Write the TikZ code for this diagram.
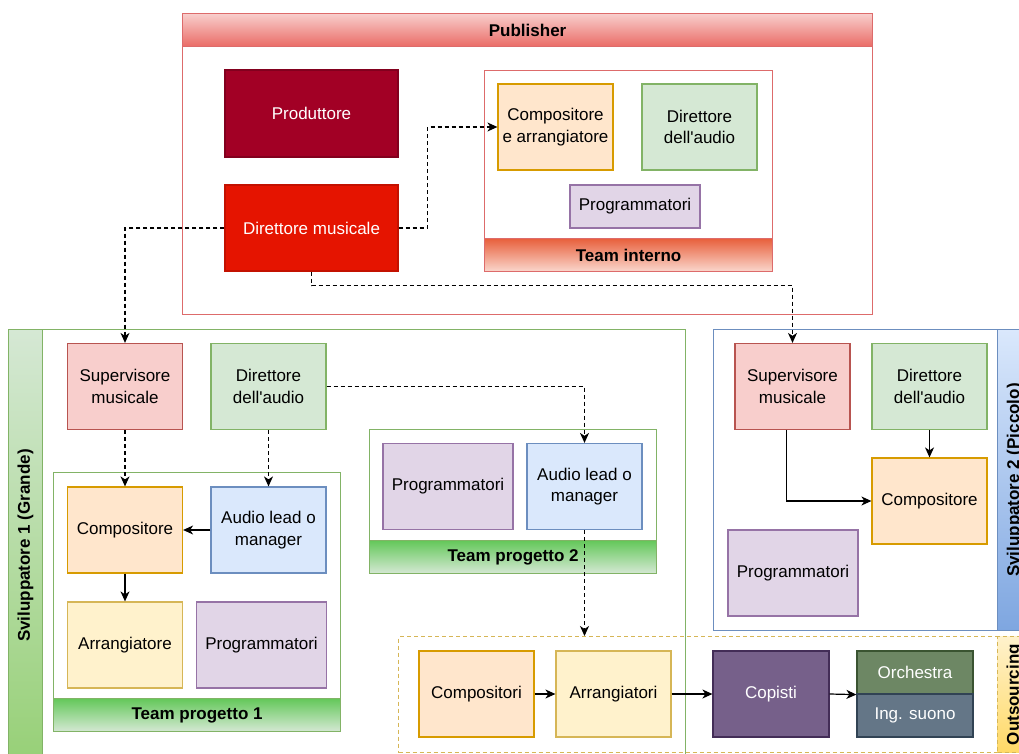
\documentclass[tikz,border=0pt]{standalone}
\usepackage{fontspec}
\setmainfont{Liberation Sans}
\usepackage{tikz}
\usetikzlibrary{arrows.meta}
\definecolor{pubred}   {HTML}{DD6B6B}
\definecolor{darkred}  {HTML}{A20025}
\definecolor{brightred}{HTML}{E51400}
\definecolor{pinkfill} {HTML}{F8CECC}
\definecolor{pinkline} {HTML}{B85450}
\definecolor{orgfill}  {HTML}{FFE6CC}
\definecolor{orgline}  {HTML}{D79B00}
\definecolor{grnfill}  {HTML}{D5E8D4}
\definecolor{grnline}  {HTML}{82B366}
\definecolor{grndark}  {HTML}{97D077}
\definecolor{grnhead}  {HTML}{64C85A}
\definecolor{purfill}  {HTML}{E1D5E7}
\definecolor{purline}  {HTML}{9673A6}
\definecolor{blufill}  {HTML}{DAE8FC}
\definecolor{bluline}  {HTML}{6C8EBF}
\definecolor{bludark}  {HTML}{7EA6E0}
\definecolor{yelfill}  {HTML}{FFF2CC}
\definecolor{yelline}  {HTML}{D6B656}
\definecolor{yeldark}  {HTML}{FFD966}
\definecolor{teamtop}  {HTML}{E8603C}
\definecolor{teambot}  {HTML}{FAD7CD}
\definecolor{pubhead}  {HTML}{EA6B66}
\definecolor{copfill}  {HTML}{76608A}
\definecolor{copline}  {HTML}{432D57}
\definecolor{orcfill}  {HTML}{6D8764}
\definecolor{orcline}  {HTML}{3A5431}
\definecolor{ingfill}  {HTML}{647687}
\definecolor{ingline}  {HTML}{314354}
\tikzset{
    box/.style={draw, line width=1.2pt, minimum width=115pt, minimum height=86pt,
             align=center, inner sep=2pt, font=\fontsize{17}{21.5}\selectfont},
    widebox/.style={box, minimum width=130pt},
    halfbox/.style={box, minimum height=43pt},
    slimbox/.style={widebox, minimum height=43pt},
    lane/.style={draw, line width=1.2pt, fill=white, anchor=north west, inner sep=0pt},
    lanehead/.style={draw, line width=1.2pt, anchor=north west, inner sep=0pt,
             font=\fontsize{17}{21}\selectfont\bfseries},
    sidetext/.style={rotate=90, font=\fontsize{17}{21}\selectfont\bfseries},
    link/.style={line width=1.2pt, dash pattern=on 4pt off 3pt,
             -{Stealth[length=10pt,width=9pt,inset=3pt]}},
    flow/.style={line width=1.2pt, -{Stealth[length=10pt,width=9pt,inset=3pt]}}
  }

\begin{document}
\begin{tikzpicture}[x=1pt, y=-1pt]
 \useasboundingbox (0,0) rectangle (1019,754);
 \clip (0,0) rectangle (1019,754);
 %Publisher
     \node[lane, draw=pubred, minimum width=690pt, minimum height=301pt] (pub) at (182,13) {};
     \node[lanehead, draw=pubred, top color=pinkfill, bottom color=pubhead,
           minimum width=690pt, minimum height=33pt] (pubh) at (182,13) {Publisher};
     \node[box, fill=darkred, draw=darkred!80!black, text=white,
           minimum width=173pt, minimum height=87pt] (prod) at (311.5,113.5) {Produttore};
     \node[box, fill=brightred, draw=brightred!85!black, text=white,
           minimum width=173pt] (dm) at (311.5,228) {Direttore musicale};
 %Team interno
     \node[lane, draw=pubred, minimum width=288pt, minimum height=201pt] (ti) at (484,70) {};
     \node[lanehead, draw=pubred, top color=teamtop, bottom color=teambot,
           minimum width=288pt, minimum height=33pt] (tih) at (484,238) {Team interno};
     \node[box, fill=orgfill, draw=orgline] (ca) at (555.5,127) {Compositore\\e arrangiatore};
     \node[box, fill=grnfill, draw=grnline] (da) at (699.5,127) {Direttore\\dell\textquotesingle audio};
     \node[slimbox, fill=purfill, draw=purline] (prg) at (635,206.5) {Programmatori};
 %Sviluppatore 1
     \node[lane, draw=grnline, minimum width=643pt, minimum height=432pt] (sv1) at (42,329) {};
     \node[lanehead, draw=grnline, top color=grnfill, bottom color=grndark,
           minimum width=34pt, minimum height=432pt,
           label={[sidetext]center:Sviluppatore 1 (Grande)}] (sv1h) at (8,329) {};
     \node[box, fill=pinkfill, draw=pinkline] (sup1) at (125,386.5) {Supervisore\\musicale};
     \node[box, fill=grnfill, draw=grnline] (dir1) at (268.5,386.5) {Direttore\\dell\textquotesingle audio};
 %Team progetto 1
     \node[lane, draw=grnline, minimum width=287pt, minimum height=259pt] (tp1) at (53,472) {};
     \node[lanehead, draw=grnline, top color=grnhead, bottom color=grnfill,
           minimum width=287pt, minimum height=33pt] (tp1h) at (53,698) {Team progetto 1};
     \node[box, fill=orgfill, draw=orgline] (comp1) at (125,530) {Compositore};
     \node[box, fill=blufill, draw=bluline] (lead1) at (268.5,530) {Audio lead o\\manager};
     \node[box, fill=yelfill, draw=yelline] (arr1) at (125,645) {Arrangiatore};
     \node[widebox, fill=purfill, draw=purline] (prg1) at (261.5,645) {Programmatori};
 %Team progetto 2
     \node[lane, draw=grnline, minimum width=287pt, minimum height=144pt] (tp2) at (369,429) {};
     \node[lanehead, draw=grnline, top color=grnhead, bottom color=grnfill,
           minimum width=287pt, minimum height=33pt] (tp2h) at (369,540) {Team progetto 2};
     \node[widebox, fill=purfill, draw=purline] (prg2) at (448,486.5) {Programmatori};
     \node[box, fill=blufill, draw=bluline] (lead2) at (584.5,486.5) {Audio lead o\\manager};
 %Sviluppatore 2
     \node[lane, draw=bluline, minimum width=284pt, minimum height=301pt] (sv2) at (713,329) {};
     \node[lanehead, draw=bluline, top color=blufill, bottom color=bludark,
           minimum width=34pt, minimum height=301pt,
           label={[sidetext]center:Sviluppatore 2 (Piccolo)}] (sv2h) at (997,329) {};
     \node[box, fill=pinkfill, draw=pinkline] (sup2) at (792.5,386.5) {Supervisore\\musicale};
     \node[box, fill=grnfill, draw=grnline] (dir2) at (929.5,386.5) {Direttore\\dell\textquotesingle audio};
     \node[box, fill=orgfill, draw=orgline] (comp2) at (929.5,501) {Compositore};
     \node[widebox, fill=purfill, draw=purline] (prg3) at (793,573) {Programmatori};
 %Outsourcing
     \node[lane, fill=none, draw=yelline, dash pattern=on 4pt off 3pt,
           minimum width=599pt, minimum height=116pt] (out) at (398,636) {};
     \node[lanehead, draw=yelline, dash pattern=on 4pt off 3pt, top color=yelfill,
           bottom color=yeldark, minimum width=34pt, minimum height=116pt,
           label={[sidetext]center:Outsourcing}] (outh) at (997,636) {};
     \node[box, fill=orgfill, draw=orgline] (compi) at (476.5,694) {Compositori};
     \node[box, fill=yelfill, draw=yelline] (arri) at (613.5,694) {Arrangiatori};
     \node[box, fill=copfill, draw=copline, text=white, minimum width=116pt] (cop) at (771,694) {Copisti};
     \node[halfbox, fill=orcfill, draw=orcline, text=white, minimum width=116pt] (orc) at (915,672.5) {Orchestra};
     \node[halfbox, fill=ingfill, draw=ingline, text=white, minimum width=116pt] (ing) at (915,715.5) {Ing. suono};
 %dashed links from Direttore musicale
     \draw[link] (dm.east) -- ++(29,0) |- (ca.west);
     \draw[link] (dm.west) -| (sup1.north);
     \draw[link] (dm.south) -- ++(0,14) -| (sup2.north);
 %Sviluppatore 1 links
     \draw[link] (sup1.south) -- (comp1.north);
     \draw[link] (dir1.south) -- (lead1.north);
     \draw[link] (dir1.east) -| (lead2.north);
     \draw[link] (lead2.south) -- (lead2.south |- out.north);
     \draw[flow] (lead1.west) -- (comp1.east);
     \draw[flow] (comp1.south) -- (arr1.north);
 %Sviluppatore 2 links
     \draw[flow] (dir2.south) -- (comp2.north);
     \draw[flow] ([xshift=-6pt]sup2.south) |- (comp2.west);
 %Outsourcing chain
     \draw[flow] (compi.east) -- (arri.west);
     \draw[flow] (arri.east) -- (cop.west);
     \draw[flow] (cop.east) -- (orc.south west);
\end{tikzpicture}
\end{document}
